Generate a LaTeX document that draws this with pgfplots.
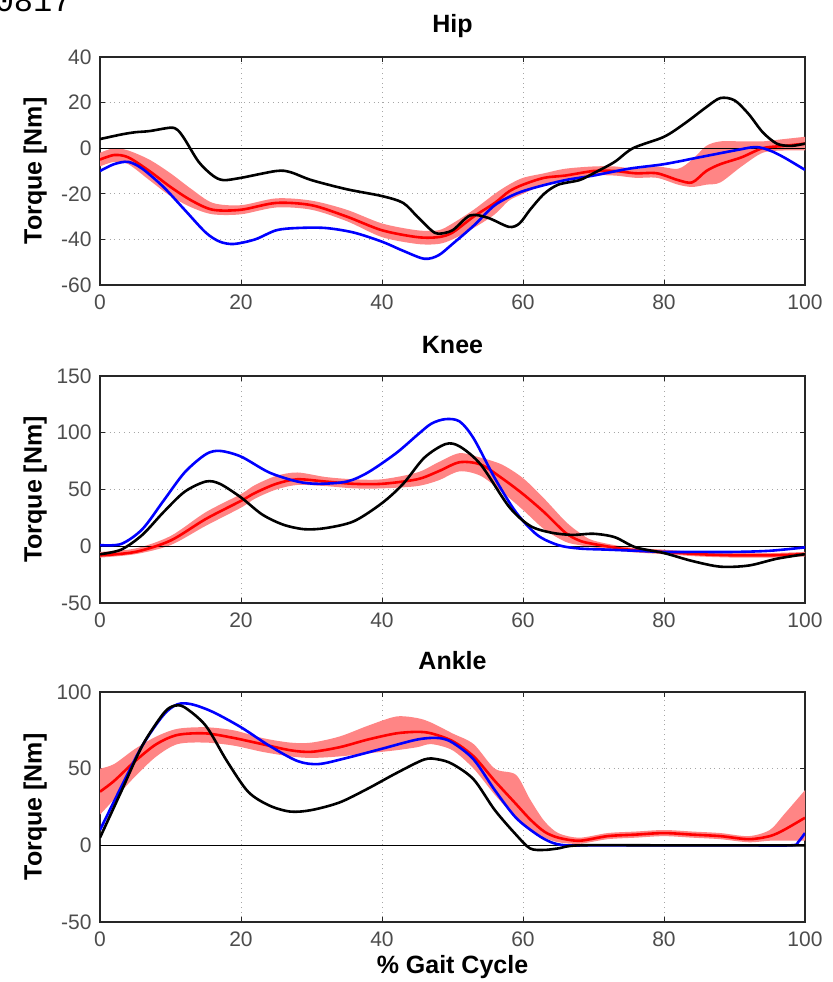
\documentclass[border=0pt]{standalone}
\usepackage{fontspec}
\setmainfont{Liberation Sans}
\newfontfamily\monofont{Liberation Mono}
\usepackage{pgfplots}
\usepackage{pgfplotstable}
\pgfplotsset{compat=1.18}
\usepgfplotslibrary{fillbetween}

\pgfplotstableread{
x mean lo hi
0 -5 -8 -2
2 -3 -6 0
4 -4 -7 -1
7 -10 -14 -5
10 -17 -21 -11
13 -23 -26 -18
16 -27 -29 -24
20 -27 -29 -25
25 -24 -26 -22
30 -25 -27 -23
35 -30 -32 -27
40 -36 -39 -33
45 -39 -42 -36
48 -39 -42 -36
50 -37 -40 -33
53 -30 -35 -27
56 -24 -29 -20
58 -19 -23 -16
60 -16 -20 -13
63 -13 -16 -11
66 -12 -14 -9
70 -10 -12 -8
73 -10 -12 -8
76 -11 -13 -9
79 -11 -13 -8
82 -14 -16 -9
84 -15 -17 -5
86 -10 -16 1
88 -7 -15 3
91 -4 -8 3
94 0 -2 3
97 1 -1 4
100 2 -1 5
}\hipred
\pgfplotstableread{
x y
0 -10
2 -7
4 -6
6 -9
9 -17
12 -27
15 -37
17 -41
19 -42
22 -40
25 -36
28 -35
32 -35
36 -37
40 -41
43 -45
46 -48.5
48 -47
50 -42
53 -34
56 -25
59 -20
62 -17
66 -14
70 -12
75 -9
80 -7
85 -4
90 -1
93 0.5
95 -1
97 -4
100 -9.5
}\hipblue
\pgfplotstableread{
x y
0 4
3 6
5 7
7 7.5
10 9
11 8
12 4
14 -6
16 -12
17.5 -14
20 -13
25 -10
27 -10.5
30 -14
35 -18
40 -21
43 -24
45 -30
47 -36
48 -37.5
50 -36
52.5 -29.5
55 -30.5
58 -34.5
59.5 -33
61 -27
63 -20
65 -16
68 -14
70 -11
73 -6
75.6 0
80 5
83 11
86 18
88 22
90 21
92 15
94 7
96 2
98 1
100 2
}\hipblack
\pgfplotstableread{
x mean lo hi
0 -8 -10 -5
5 -5 -7 -2
10 5 1 9
15 24 18 30
20 40 34 46
22 47 42 54
25 55 50 62
28 59 54 65
32 57 53 61
36 55 51 59
40 55 51 59
45 59 53 65
48 66 58 74
51 74 66 82
54 72 62 78
57 60 48 72
60 46 32 60
63 30 15 42
66 12 4 22
68 5 1 12
70 2 -1 5
75 -3 -5 -1
80 -5 -7 -3
85 -7 -9 -5
90 -8 -10 -6
95 -8 -10 -6
100 -7 -9 -5
}\kneered
\pgfplotstableread{
x y
0 1
3 2
6 15
9 40
12 65
15 81
17 84
20 79
24 65
28 57
31 55
35 57
38 65
42 82
45 98
47 108
49 112
51 110
53 95
56 60
59 30
62 10
65 1
68 -2
72 -3
76 -4
80 -5
85 -5
90 -5
95 -4
100 -1
}\kneeblue
\pgfplotstableread{
x y
0 -7
3 -3
6 10
9 30
12 48
15 57
17 55
20 43
23 28
26 19
29 15
32 16
36 22
40 38
43 55
46 78
49 90
51 88
54 72
58 35
61 18
64 12
67 10
70 11
73 8
76 -1
80 -6
84 -13
88 -18
92 -17
96 -11
100 -7
}\kneeblack
\pgfplotstableread{
x mean lo hi
0 35 20 50
2 42 30 53
5 55 45 63
8 66 58 71
11 72 66 76
15 73 67 77
19 70 65 75
23 66 61 70
27 62 58 67
30 61 57 67
34 64 58 71
38 69 60 78
42 73 62 84
45 74 64 83
47 73 66 80
50 68 62 73
53 58 50 66
56 42 33 50
59 27 18 46
61 17 10 30
63 9 5 16
65 5 2 8
68 3 1 5
72 6 4 8
76 7 5 9
80 8 6 10
84 7 5 9
88 6 4 8
92 4 2 6
95 6 3 10
97 10 3 20
100 18 3 36
}\anklered
\pgfplotstableread{
x y
0 10
3 38
6 65
9 85
11 92
13 92
16 87
20 77
24 65
28 55
31 53
35 57
40 63
45 69
48 70
50 67
53 56
56 36
59 18
62 7
64 2
66 0
70 0
80 0
90 0
98 0
99 2
100 8
}\ankleblue
\pgfplotstableread{
x y
0 5
3 35
6 65
9 86
10.5 91
12 90
15 78
18 55
21 35
24 26
27 22
30 23
34 28
38 37
42 47
46 56
48 56
50 53
53 43
56 23
59 7
61 -2
63 -3
65 -2
68 0
80 0
90 0
100 0
}\ankleblack

\pgfplotsset{
  gaitax/.style={
    scale only axis, width=352.5pt,
    xmin=0, xmax=100, xtick={0,20,...,100},
    axis line style={black!85, line width=0.7pt},
    tick align=inside, major tick length=2.5pt,
    tick style={black!85, line width=0.5pt},
    grid=major, grid style={dotted, gray!70, line width=0.5pt},
    /pgf/number format/assume math mode=true,
    ticklabel style={font=\fontsize{10.5}{12}\selectfont, text=black!70},
    xticklabel style={anchor=base, yshift=-12.5pt},
    yticklabel style={anchor=east, inner sep=0pt, xshift=-4pt},
    ylabel={Torque [Nm]},
    ylabel style={at={(axis description cs:-0.092,0.5)}, anchor=center, rotate=0, font=\bfseries\fontsize{12.5}{14}\selectfont},
    title style={at={(axis description cs:0.5,1)}, anchor=base, font=\bfseries\fontsize{12.5}{14}\selectfont},
    clip=true,
  },
  band/.style={fill=red!48, draw=none},
  meanl/.style={red, line width=1.3pt, smooth, tension=0.5},
  bluel/.style={blue, line width=1.3pt, smooth, tension=0.5},
  blackl/.style={black, line width=1.3pt, smooth, tension=0.5},
}

\begin{document}
\begin{tikzpicture}[x=1pt,y=1pt]
% Hip
\begin{axis}[gaitax, at={(50pt,348.5pt)}, anchor=south west, height=114pt,
  ymin=-60, ymax=40, ytick={-60,-40,...,40}, title={Hip}, title style={yshift=6pt}]
\addplot[draw=none, name path=hu, smooth, tension=0.5] table[x=x,y=hi]{\hipred};
\addplot[draw=none, name path=hl, smooth, tension=0.5] table[x=x,y=lo]{\hipred};
\addplot[band] fill between[of=hu and hl];
\addplot[black, line width=0.6pt] coordinates {(0,0) (100,0)};
\addplot[meanl] table[x=x,y=mean]{\hipred};
\addplot[bluel] table[x=x,y=y]{\hipblue};
\addplot[blackl] table[x=x,y=y]{\hipblack};
\end{axis}
% Knee
\begin{axis}[gaitax, at={(50pt,189.5pt)}, anchor=south west, height=113.5pt,
  ymin=-50, ymax=150, ytick={-50,0,...,150}, title={Knee}, title style={yshift=5.5pt}]
\addplot[draw=none, name path=ku, smooth, tension=0.5] table[x=x,y=hi]{\kneered};
\addplot[draw=none, name path=kl, smooth, tension=0.5] table[x=x,y=lo]{\kneered};
\addplot[band] fill between[of=ku and kl];
\addplot[black, line width=0.6pt] coordinates {(0,0) (100,0)};
\addplot[meanl] table[x=x,y=mean]{\kneered};
\addplot[bluel] table[x=x,y=y]{\kneeblue};
\addplot[blackl] table[x=x,y=y]{\kneeblack};
\end{axis}
% Ankle
\begin{axis}[gaitax, at={(50pt,30pt)}, anchor=south west, height=115pt,
  ymin=-50, ymax=100, ytick={-50,0,...,100}, title={Ankle}, title style={yshift=5pt},
  xlabel={\% Gait Cycle},
  xlabel style={at={(axis description cs:0.5,0)}, anchor=base, yshift=-25.5pt, font=\bfseries\fontsize{12.5}{14}\selectfont}]
\addplot[draw=none, name path=au, smooth, tension=0.5] table[x=x,y=hi]{\anklered};
\addplot[draw=none, name path=al, smooth, tension=0.5] table[x=x,y=lo]{\anklered};
\addplot[band] fill between[of=au and al];
\addplot[black, line width=0.6pt] coordinates {(0,0) (100,0)};
\addplot[meanl] table[x=x,y=mean]{\anklered};
\addplot[bluel] table[x=x,y=y]{\ankleblue};
\addplot[blackl] table[x=x,y=y]{\ankleblack};
\end{axis}
\node[anchor=base east, inner sep=0pt, font=\monofont\fontsize{16}{18}\selectfont] at (36pt,485pt) {0817};
\pgfresetboundingbox
\path[use as bounding box] (0,0) rectangle (416pt,491pt);
\end{tikzpicture}
\end{document}
